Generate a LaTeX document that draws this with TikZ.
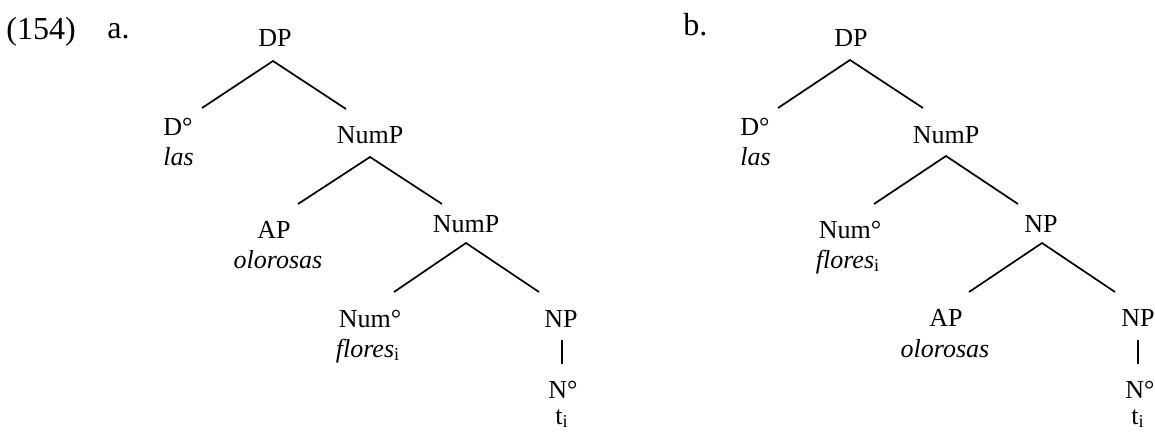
\documentclass[tikz,border=0pt]{standalone}
\usepackage{fontspec}
\setmainfont{Liberation Serif}
\begin{document}
\begin{tikzpicture}[x=0.5pt,y=-0.5pt,
  lab/.style={anchor=base,inner sep=0pt,font=\fontsize{13pt}{15pt}\selectfont},
  labw/.style={lab,anchor=base west},
  exlab/.style={anchor=base west,inner sep=0pt,font=\fontsize{16pt}{19pt}\selectfont},
  branch/.style={line width=0.85pt}]
\useasboundingbox (0,0) rectangle (1155,435);

% example number and sub-example letters
\node[exlab] (exnum) at (6,39) {(154)};
\node[exlab] (ta) at (107,38) {a.};
\node[exlab] (tb) at (683,35) {b.};

% ---------- tree (a) ----------
\node[lab] (a-dp) at (275,46) {DP};
\node[labw] (a-d) at (163,135) {D°};
\node[labw] (a-las) at (163,165) {\textit{las}};
\node[lab] (a-nump1) at (370,143) {NumP};
\node[lab] (a-ap) at (274,238) {AP};
\node[lab] (a-olor) at (278,268) {\textit{olorosas}};
\node[lab] (a-nump2) at (466,232) {NumP};
\node[lab] (a-num) at (370,327) {Num°};
\node[lab] (a-flores) at (368,357) {\textit{flores}\textsubscript{i}};
\node[lab] (a-np) at (561,327) {NP};
\node[lab] (a-n) at (563,398) {N°};
\node[lab] (a-t) at (562,424) {t\textsubscript{i}};

\coordinate (a-c1) at (273,61);  \coordinate (a-c1l) at (202,108); \coordinate (a-c1r) at (346,109);
\coordinate (a-c2) at (370,157); \coordinate (a-c2l) at (298,204); \coordinate (a-c2r) at (442,204);
\coordinate (a-c3) at (466,243); \coordinate (a-c3l) at (394,292); \coordinate (a-c3r) at (539,292);
\coordinate (a-v1) at (562,340); \coordinate (a-v2) at (562,364);

\draw[branch] (a-c1l) -- (a-c1) -- (a-c1r);
\draw[branch] (a-c2l) -- (a-c2) -- (a-c2r);
\draw[branch] (a-c3l) -- (a-c3) -- (a-c3r);
\draw[branch] (a-v1) -- (a-v2);

% ---------- tree (b) ----------
\node[lab] (b-dp) at (851,46) {DP};
\node[labw] (b-d) at (740,135) {D°};
\node[labw] (b-las) at (740,165) {\textit{las}};
\node[lab] (b-nump) at (946,143) {NumP};
\node[lab] (b-num) at (850,238) {Num°};
\node[lab] (b-flores) at (848,268) {\textit{flores}\textsubscript{i}};
\node[lab] (b-np1) at (1041,232) {NP};
\node[lab] (b-ap) at (946,326) {AP};
\node[lab] (b-olor) at (945,357) {\textit{olorosas}};
\node[lab] (b-np2) at (1138,326) {NP};
\node[lab] (b-n) at (1140,398) {N°};
\node[lab] (b-t) at (1138,424) {t\textsubscript{i}};

\coordinate (b-c1) at (850,60);   \coordinate (b-c1l) at (778,108);  \coordinate (b-c1r) at (923,108);
\coordinate (b-c2) at (946,156);  \coordinate (b-c2l) at (874,204);  \coordinate (b-c2r) at (1018,204);
\coordinate (b-c3) at (1042,243); \coordinate (b-c3l) at (969,292);  \coordinate (b-c3r) at (1115,292);
\coordinate (b-v1) at (1138,340); \coordinate (b-v2) at (1138,364);

\draw[branch] (b-c1l) -- (b-c1) -- (b-c1r);
\draw[branch] (b-c2l) -- (b-c2) -- (b-c2r);
\draw[branch] (b-c3l) -- (b-c3) -- (b-c3r);
\draw[branch] (b-v1) -- (b-v2);
\end{tikzpicture}
\end{document}
